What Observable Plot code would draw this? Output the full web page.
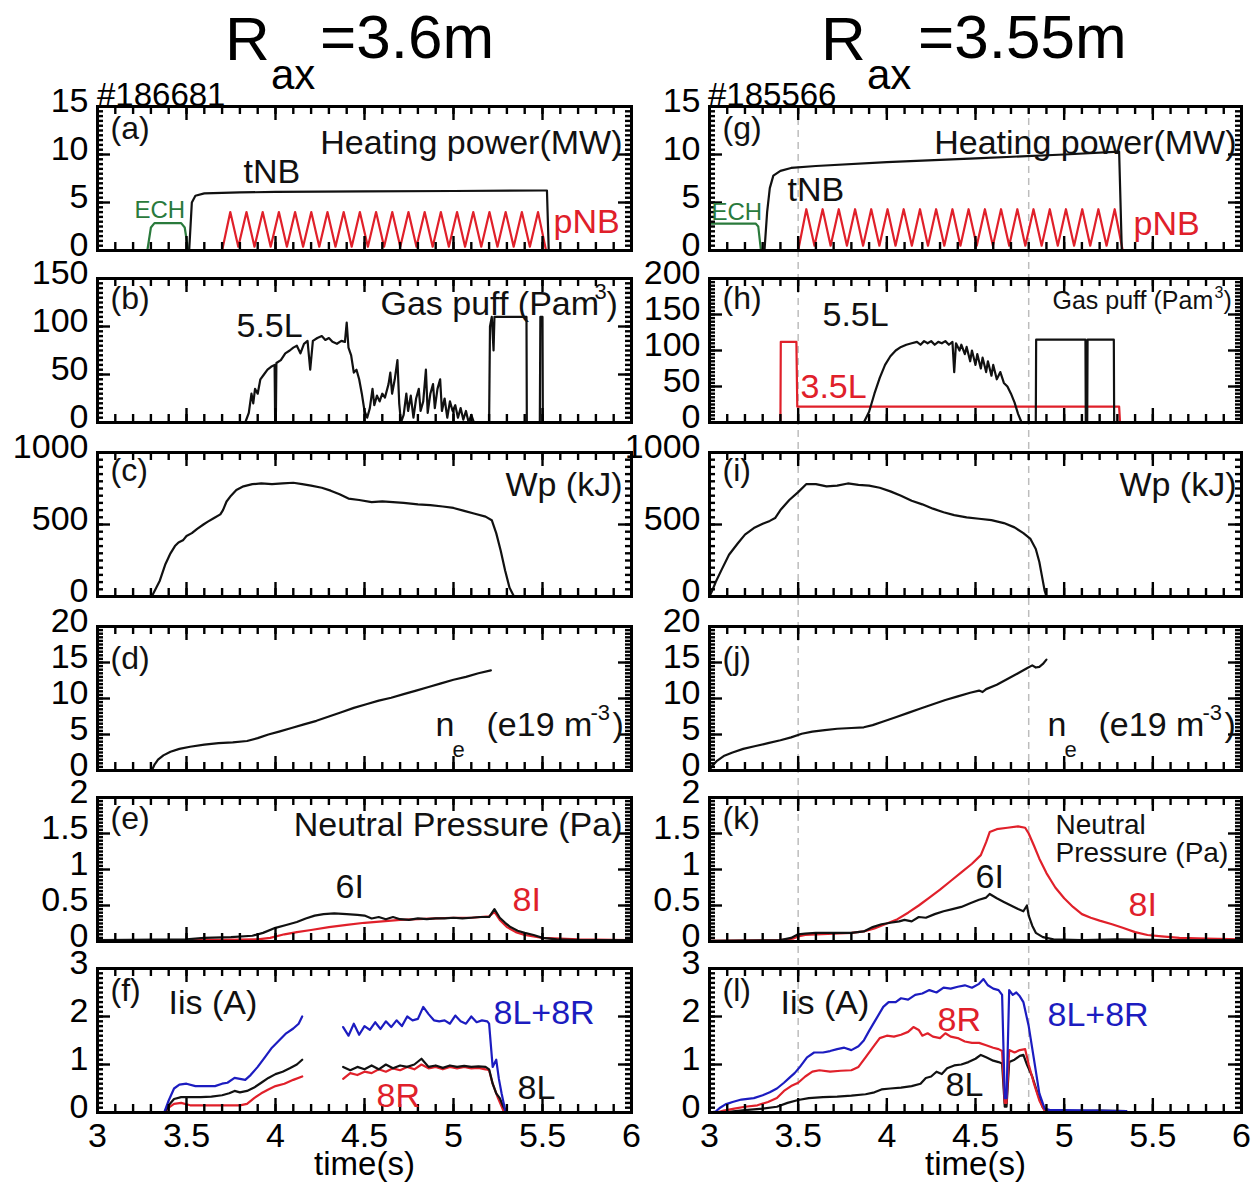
<!DOCTYPE html>
<html>
<head>
<meta charset="utf-8">
<script src="https://cdn.jsdelivr.net/npm/d3@7"></script>
<script src="https://cdn.jsdelivr.net/npm/@observablehq/plot@0.6"></script>
<style>
  body { margin: 0; background: #fff; }
  #fig { position: relative; width: 1253px; height: 1182px; overflow: hidden; background: #fff; }
  #fig svg { position: absolute; overflow: visible; }
</style>
</head>
<body>
<div id="fig"></div>
<script>
// ---------- shared axis values ----------
const xTickLabels = [3, 3.5, 4, 4.5, 5, 5.5, 6];
const dashedTimes = [3.5, 4.8];

// ---------- (a) / (g) heating power (MW) ----------
const echLeft = [[3.28,0],[3.30,2.4],[3.32,2.85],[3.47,2.85],[3.49,2.4],[3.51,0]];
const tnbLeft = [[3.0,0],[3.515,0],[3.53,5.0],[3.55,5.7],[3.6,5.95],[3.8,6.05],[4.0,6.1],[4.5,6.15],[5.0,6.2],[5.5,6.25],[5.525,6.25],[5.535,0],[6.0,0]];
const pnbLeft = [[3.700,0],[3.746,4.0],[3.791,0.4],[3.837,4.0],[3.882,0.4],[3.928,4.0],[3.973,0.4],[4.019,4.0],[4.064,0.4],[4.110,4.0],[4.155,0.4],[4.201,4.0],[4.246,0.4],[4.292,4.0],[4.337,0.4],[4.383,4.0],[4.428,0.4],[4.474,4.0],[4.519,0.4],[4.565,4.0],[4.610,0.4],[4.656,4.0],[4.701,0.4],[4.747,4.0],[4.792,0.4],[4.838,4.0],[4.883,0.4],[4.929,4.0],[4.974,0.4],[5.020,4.0],[5.065,0.4],[5.111,4.0],[5.156,0.4],[5.202,4.0],[5.247,0.4],[5.293,4.0],[5.338,0.4],[5.384,4.0],[5.429,0.4],[5.475,4.0],[5.520,0]];
const echRight = [[3.0,2.8],[3.26,2.8],[3.275,2.5],[3.29,0]];
const tnbRight = [[3.0,0],[3.31,0],[3.325,4.0],[3.34,6.5],[3.36,7.8],[3.40,8.3],[3.46,8.6],[3.6,8.8],[4.0,9.2],[4.5,9.6],[5.0,10.0],[5.31,10.3],[5.325,0],[6.0,0]];
const pnbRight = [[3.500,0],[3.546,4.3],[3.592,0.5],[3.638,4.3],[3.683,0.5],[3.729,4.3],[3.775,0.5],[3.821,4.3],[3.866,0.5],[3.912,4.3],[3.958,0.5],[4.004,4.3],[4.049,0.5],[4.095,4.3],[4.141,0.5],[4.187,4.3],[4.232,0.5],[4.278,4.3],[4.324,0.5],[4.370,4.3],[4.415,0.5],[4.461,4.3],[4.507,0.5],[4.553,4.3],[4.598,0.5],[4.644,4.3],[4.690,0.5],[4.736,4.3],[4.781,0.5],[4.827,4.3],[4.873,0.5],[4.919,4.3],[4.964,0.5],[5.010,4.3],[5.056,0.5],[5.102,4.3],[5.147,0.5],[5.193,4.3],[5.239,0.5],[5.285,4.3],[5.330,0]];

// ---------- (b) / (h) gas puff (Pa m^3) ----------
const gasLeft55 = [[3.0,0],[3.83,0],[3.85,10],[3.865,30],[3.875,20],[3.885,35],[3.90,30],[3.915,45],[3.935,50],[3.955,55],[3.975,58],[3.995,60],[3.998,0],[4.002,0],[4.005,62],[4.03,65],[4.055,72],[4.08,75],[4.10,78],[4.12,80],[4.14,72],[4.16,82],[4.18,85],[4.195,55],[4.21,85],[4.235,88],[4.26,90],[4.28,86],[4.30,88],[4.32,84],[4.345,82],[4.37,85],[4.39,84],[4.40,104],[4.41,78],[4.425,70],[4.44,52],[4.455,55],[4.47,45],[4.485,30],[4.50,12],[4.515,5],[4.53,15],[4.545,35],[4.555,18],[4.57,28],[4.585,22],[4.60,30],[4.615,26],[4.635,40],[4.645,52],[4.655,30],[4.67,45],[4.685,65],[4.695,20],[4.705,0],[4.72,8],[4.735,30],[4.745,12],[4.76,28],[4.775,5],[4.79,25],[4.805,35],[4.815,12],[4.83,22],[4.845,55],[4.855,10],[4.87,30],[4.885,40],[4.895,15],[4.91,35],[4.925,45],[4.935,12],[4.95,25],[4.965,5],[4.98,22],[4.995,12],[5.01,18],[5.025,5],[5.04,15],[5.055,3],[5.07,12],[5.085,0],[5.10,8],[5.115,0],[5.20,0],[5.205,100],[5.215,110],[5.225,75],[5.23,110],[5.41,110],[5.412,0],[5.485,0],[5.488,110],[5.50,110],[5.502,0],[6.0,0]];
const gasRight55 = [[3.0,0],[3.87,0],[3.90,15],[3.93,40],[3.96,62],[3.99,80],[4.02,92],[4.05,100],[4.08,105],[4.11,108],[4.14,110],[4.17,112],[4.19,108],[4.21,113],[4.23,110],[4.25,113],[4.27,108],[4.29,112],[4.31,110],[4.33,113],[4.35,108],[4.37,112],[4.38,70],[4.39,110],[4.41,100],[4.42,108],[4.44,95],[4.45,105],[4.47,85],[4.48,100],[4.50,80],[4.51,95],[4.53,75],[4.54,90],[4.56,70],[4.57,85],[4.59,65],[4.60,80],[4.62,60],[4.64,70],[4.66,55],[4.68,50],[4.70,40],[4.72,28],[4.74,12],[4.76,0],[4.84,0],[4.842,115],[5.12,115],[5.122,0],[5.13,0],[5.132,115],[5.28,115],[5.282,0],[6.0,0]];
const gasRight35 = [[3.40,0],[3.402,112],[3.49,112],[3.495,22],[5.31,22],[5.315,0],[6.0,0]];

// ---------- (c) / (i) stored energy Wp (kJ) ----------
const wpLeft = [[3.0,0],[3.305,0],[3.33,60],[3.35,110],[3.38,220],[3.41,300],[3.435,350],[3.455,375],[3.48,390],[3.50,420],[3.53,440],[3.56,470],[3.595,500],[3.62,520],[3.655,545],[3.69,570],[3.705,600],[3.725,660],[3.75,700],[3.78,740],[3.82,765],[3.87,780],[3.92,785],[3.98,780],[4.04,785],[4.10,790],[4.15,780],[4.20,770],[4.26,755],[4.31,735],[4.36,710],[4.41,680],[4.47,670],[4.54,655],[4.60,660],[4.66,655],[4.72,650],[4.80,640],[4.87,635],[4.94,625],[5.00,615],[5.06,595],[5.12,575],[5.18,555],[5.215,530],[5.24,440],[5.265,320],[5.29,180],[5.315,60],[5.34,0],[6.0,0]];
const wpRight = [[3.0,0],[3.015,40],[3.035,100],[3.07,190],[3.11,290],[3.16,370],[3.20,430],[3.25,475],[3.30,505],[3.34,525],[3.37,545],[3.40,600],[3.45,670],[3.50,725],[3.545,780],[3.60,780],[3.66,765],[3.72,770],[3.78,785],[3.84,775],[3.90,770],[3.96,755],[4.02,730],[4.08,700],[4.14,665],[4.20,640],[4.26,610],[4.32,585],[4.38,565],[4.45,550],[4.52,540],[4.59,530],[4.66,510],[4.72,480],[4.77,440],[4.81,400],[4.84,330],[4.86,240],[4.875,140],[4.89,40],[4.90,0],[6.0,0]];

// ---------- (d) / (j) line-averaged density (1e19 m^-3) ----------
const neLeft = [[3.305,0],[3.32,0.8],[3.34,1.5],[3.37,2.1],[3.41,2.6],[3.46,3.0],[3.52,3.3],[3.60,3.6],[3.68,3.8],[3.76,3.9],[3.84,4.1],[3.90,4.5],[3.96,5.0],[4.02,5.4],[4.09,5.9],[4.16,6.4],[4.23,6.9],[4.30,7.5],[4.37,8.1],[4.44,8.7],[4.51,9.2],[4.58,9.7],[4.65,10.1],[4.72,10.6],[4.79,11.1],[4.86,11.6],[4.93,12.1],[5.00,12.6],[5.07,13.0],[5.14,13.5],[5.21,13.9]];
const neRight = [[3.0,0],[3.01,0.5],[3.04,1.3],[3.08,2.0],[3.13,2.5],[3.19,3.0],[3.26,3.4],[3.33,3.8],[3.40,4.2],[3.46,4.6],[3.52,5.1],[3.58,5.4],[3.65,5.6],[3.72,5.8],[3.80,5.9],[3.87,6.0],[3.92,6.3],[3.98,6.8],[4.05,7.4],[4.12,8.0],[4.19,8.6],[4.26,9.2],[4.33,9.8],[4.40,10.3],[4.47,10.8],[4.52,11.1],[4.54,10.9],[4.56,11.3],[4.62,11.9],[4.68,12.7],[4.74,13.5],[4.79,14.2],[4.82,14.6],[4.84,14.3],[4.86,14.4],[4.88,14.8],[4.90,15.4]];

// ---------- (e) / (k) neutral pressure (Pa) ----------
const p6iLeft = [[3.0,0.02],[3.5,0.03],[3.6,0.05],[3.75,0.06],[3.87,0.08],[3.93,0.12],[4.0,0.19],[4.06,0.23],[4.12,0.27],[4.17,0.32],[4.22,0.36],[4.27,0.38],[4.33,0.39],[4.40,0.38],[4.46,0.37],[4.50,0.36],[4.54,0.32],[4.58,0.34],[4.62,0.31],[4.66,0.34],[4.70,0.31],[4.75,0.30],[4.80,0.32],[4.85,0.31],[4.90,0.32],[4.95,0.32],[5.00,0.33],[5.05,0.32],[5.10,0.33],[5.15,0.34],[5.20,0.34],[5.23,0.45],[5.26,0.33],[5.29,0.26],[5.32,0.2],[5.36,0.15],[5.40,0.12],[5.45,0.09],[5.50,0.05],[5.58,0.03],[5.70,0.02],[6.0,0.02]];
const p8iLeft = [[3.0,0.01],[3.6,0.02],[3.9,0.03],[3.97,0.05],[4.05,0.1],[4.12,0.13],[4.2,0.16],[4.3,0.2],[4.4,0.23],[4.5,0.26],[4.6,0.28],[4.7,0.3],[4.8,0.31],[4.9,0.32],[5.0,0.33],[5.1,0.33],[5.2,0.35],[5.23,0.41],[5.26,0.3],[5.3,0.2],[5.35,0.13],[5.4,0.09],[5.45,0.07],[5.5,0.05],[5.6,0.04],[5.7,0.03],[6.0,0.02]];
const p8iRight = [[3.0,0.01],[3.4,0.02],[3.47,0.04],[3.50,0.07],[3.54,0.09],[3.6,0.1],[3.7,0.11],[3.8,0.12],[3.87,0.14],[3.93,0.18],[4.0,0.25],[4.06,0.31],[4.12,0.4],[4.18,0.5],[4.24,0.61],[4.30,0.72],[4.36,0.84],[4.42,0.96],[4.48,1.08],[4.53,1.2],[4.56,1.38],[4.58,1.52],[4.62,1.56],[4.68,1.58],[4.74,1.6],[4.78,1.58],[4.80,1.5],[4.83,1.33],[4.86,1.15],[4.90,0.95],[4.95,0.75],[5.0,0.6],[5.05,0.48],[5.10,0.38],[5.15,0.33],[5.20,0.29],[5.27,0.24],[5.33,0.19],[5.40,0.13],[5.47,0.09],[5.55,0.07],[5.65,0.05],[5.8,0.04],[6.0,0.03]];
const p6iRight = [[3.0,0.01],[3.4,0.02],[3.46,0.05],[3.50,0.1],[3.54,0.11],[3.6,0.12],[3.7,0.12],[3.8,0.12],[3.87,0.14],[3.92,0.2],[3.97,0.24],[4.02,0.26],[4.07,0.28],[4.10,0.3],[4.14,0.28],[4.18,0.34],[4.22,0.33],[4.27,0.38],[4.32,0.42],[4.37,0.45],[4.42,0.48],[4.47,0.53],[4.52,0.58],[4.56,0.61],[4.58,0.66],[4.62,0.6],[4.66,0.55],[4.70,0.5],[4.74,0.45],[4.77,0.42],[4.79,0.5],[4.80,0.36],[4.82,0.22],[4.84,0.12],[4.88,0.06],[4.94,0.03],[5.1,0.02],[5.3,0.03],[5.6,0.02],[6.0,0.02]];

// ---------- (f) / (l) ion saturation current (A) ----------
const iis8LR_Left = [[3.375,0],[3.40,0.25],[3.43,0.5],[3.46,0.58],[3.50,0.6],[3.55,0.55],[3.60,0.55],[3.66,0.55],[3.70,0.6],[3.73,0.62],[3.77,0.72],[3.80,0.7],[3.83,0.68],[3.86,0.78],[3.90,0.95],[3.94,1.15],[3.98,1.35],[4.02,1.5],[4.06,1.65],[4.10,1.75],[4.13,1.85],[4.15,2.0],[4.16,null],[4.38,1.78],[4.41,1.6],[4.44,1.85],[4.47,1.62],[4.50,1.8],[4.53,1.72],[4.56,1.88],[4.59,1.74],[4.62,1.9],[4.65,1.78],[4.68,1.92],[4.71,1.8],[4.74,2.0],[4.77,1.92],[4.80,1.95],[4.83,2.2],[4.86,2.05],[4.89,1.92],[4.92,1.9],[4.95,1.92],[4.98,1.85],[5.01,2.02],[5.04,1.9],[5.07,1.85],[5.10,2.0],[5.13,1.88],[5.16,1.92],[5.19,1.9],[5.20,1.85],[5.22,0.95],[5.24,1.1],[5.255,0.7],[5.27,0.4],[5.29,0.05],[5.30,0]];
const iis8L_Left = [[3.375,0],[3.40,0.15],[3.43,0.28],[3.47,0.32],[3.52,0.32],[3.58,0.32],[3.64,0.33],[3.70,0.36],[3.74,0.4],[3.77,0.45],[3.80,0.42],[3.84,0.45],[3.88,0.52],[3.92,0.62],[3.96,0.72],[4.00,0.8],[4.04,0.85],[4.08,0.92],[4.12,1.0],[4.15,1.1],[4.16,null],[4.38,0.95],[4.42,0.88],[4.46,0.95],[4.50,0.9],[4.54,0.98],[4.58,0.9],[4.62,1.0],[4.66,0.92],[4.70,0.98],[4.74,0.95],[4.78,1.0],[4.82,1.12],[4.86,0.95],[4.90,0.98],[4.94,0.93],[4.98,0.98],[5.02,0.95],[5.06,0.97],[5.10,0.95],[5.14,0.96],[5.18,0.95],[5.20,0.9],[5.22,0.6],[5.24,0.4],[5.26,0.3],[5.28,0.12],[5.30,0]];
const iis8R_Left = [[3.375,0],[3.40,0.1],[3.43,0.18],[3.47,0.2],[3.52,0.15],[3.60,0.15],[3.70,0.15],[3.80,0.15],[3.84,0.18],[3.88,0.3],[3.92,0.4],[3.96,0.48],[4.00,0.55],[4.05,0.6],[4.10,0.68],[4.15,0.75],[4.16,null],[4.38,0.7],[4.42,0.82],[4.46,0.78],[4.50,0.85],[4.54,0.82],[4.58,0.9],[4.62,0.85],[4.66,0.92],[4.70,0.88],[4.74,0.95],[4.78,0.9],[4.82,1.0],[4.86,0.92],[4.90,0.95],[4.94,0.9],[4.98,0.95],[5.02,0.92],[5.06,0.95],[5.10,0.92],[5.14,0.93],[5.18,0.9],[5.20,0.88],[5.22,0.6],[5.25,0.3],[5.285,0]];
const iis8LR_Right = [[3.0,0],[3.035,0.02],[3.06,0.1],[3.09,0.17],[3.13,0.22],[3.18,0.27],[3.25,0.3],[3.30,0.36],[3.34,0.42],[3.38,0.5],[3.42,0.62],[3.45,0.72],[3.48,0.82],[3.51,0.95],[3.55,1.15],[3.59,1.25],[3.64,1.25],[3.68,1.28],[3.72,1.32],[3.76,1.35],[3.80,1.3],[3.84,1.38],[3.87,1.5],[3.90,1.7],[3.94,1.95],[3.98,2.2],[4.01,2.3],[4.05,2.3],[4.08,2.38],[4.12,2.35],[4.16,2.45],[4.20,2.48],[4.24,2.55],[4.28,2.5],[4.32,2.6],[4.36,2.58],[4.40,2.62],[4.44,2.65],[4.48,2.6],[4.52,2.68],[4.545,2.78],[4.57,2.65],[4.60,2.58],[4.63,2.55],[4.65,2.45],[4.665,0.3],[4.675,0.3],[4.69,2.55],[4.71,2.45],[4.73,2.5],[4.75,2.42],[4.77,2.3],[4.80,1.8],[4.83,1.1],[4.86,0.4],[4.89,0.08],[4.92,0.05],[5.0,0.05],[5.2,0.04],[5.35,0.03]];
const iis8R_Right = [[3.0,0],[3.04,0],[3.08,0.04],[3.14,0.08],[3.20,0.12],[3.27,0.15],[3.33,0.22],[3.38,0.3],[3.42,0.45],[3.46,0.55],[3.50,0.62],[3.54,0.75],[3.58,0.85],[3.62,0.88],[3.68,0.85],[3.74,0.87],[3.80,0.88],[3.84,0.95],[3.88,1.15],[3.92,1.35],[3.96,1.55],[4.00,1.6],[4.04,1.58],[4.08,1.62],[4.12,1.68],[4.15,1.78],[4.18,1.72],[4.20,1.6],[4.23,1.65],[4.26,1.58],[4.30,1.55],[4.33,1.65],[4.36,1.58],[4.40,1.55],[4.44,1.48],[4.48,1.45],[4.52,1.45],[4.56,1.4],[4.60,1.35],[4.63,1.32],[4.65,1.28],[4.665,0.2],[4.675,0.2],[4.69,1.3],[4.72,1.25],[4.75,1.3],[4.78,1.32],[4.80,1.0],[4.83,0.6],[4.86,0.25],[4.89,0.03]];
const iis8L_Right = [[3.0,0],[3.06,0],[3.12,0.02],[3.20,0.05],[3.30,0.08],[3.38,0.12],[3.44,0.2],[3.50,0.26],[3.56,0.3],[3.64,0.32],[3.72,0.33],[3.80,0.35],[3.88,0.38],[3.93,0.42],[3.97,0.48],[4.02,0.5],[4.08,0.52],[4.14,0.55],[4.19,0.6],[4.22,0.72],[4.25,0.75],[4.28,0.85],[4.31,0.8],[4.34,0.92],[4.38,0.98],[4.42,1.0],[4.46,1.05],[4.50,1.12],[4.53,1.2],[4.56,1.15],[4.60,1.08],[4.63,1.05],[4.65,1.02],[4.665,0.12],[4.675,0.12],[4.69,1.05],[4.72,1.1],[4.75,1.18],[4.77,1.2],[4.79,1.0],[4.82,0.75],[4.85,0.4],[4.88,0.1],[4.90,0.03],[5.0,0.03],[5.2,0.04],[5.35,0.03]];

// ---------- layout ----------
const FONT = "'Liberation Sans', Arial, Helvetica, sans-serif";
const BLACK = "#111", RED = "#e0202a", GREEN = "#2a7a3c", BLUE = "#1c1cc0";
const colX = {left: 97, right: 709};   // left edge of each frame
const colW = {left: 534, right: 532};  // frame widths
const rowY = [106, 278, 452, 626, 797, 968];
const FH = 144;                        // frame height
const ML = 97, MR = 20, MT = 20;
const fig = document.getElementById("fig");

// dashed guide lines running through the right-hand column
{
  const top = rowY[0], h = rowY[5] + FH - top;
  const svg = Plot.plot({
    width: ML + colW.right + MR, height: h,
    marginLeft: ML, marginRight: MR, marginTop: 0, marginBottom: 0,
    x: {domain: [3, 6], axis: null},
    style: {background: "none", overflow: "visible"},
    marks: [Plot.ruleX(dashedTimes, {x: d => d, stroke: "#bdbdbd", strokeWidth: 1.5, strokeDasharray: "7,5"})]
  });
  svg.style.left = (colX.right - ML) + "px";
  svg.style.top = top + "px";
  fig.append(svg);
}

function panel(o) {
  const fx = colX[o.col], fw = colW[o.col], fy = rowY[o.row];
  const bottomRow = o.row === 5;
  const MB = bottomRow ? 80 : 20;
  const marks = [];
  for (const s of o.series) {
    marks.push(Plot.line(s.data, {x: d => d[0], y: d => d[1], stroke: s.color, strokeWidth: 2.2, strokeLinejoin: "round"}));
  }
  const yMinor = d3.range(o.y[0], o.y[1] + o.minor / 2, o.minor);
  const xMinor = d3.range(3, 6.05, 0.1);
  const tk = {stroke: "#000", strokeWidth: 2.4};
  // inward-pointing ticks on all four sides, IDL style
  marks.push(
    Plot.tickX(xMinor, {x: d => d, insetBottom: FH - 8, ...tk}),
    Plot.tickX(xTickLabels, {x: d => d, insetBottom: FH - 14, ...tk}),
    Plot.tickX(xMinor, {x: d => d, insetTop: FH - 8, ...tk}),
    Plot.tickX(xTickLabels, {x: d => d, insetTop: FH - 14, ...tk}),
    Plot.tickY(yMinor, {y: d => d, insetRight: fw - 6, ...tk}),
    Plot.tickY(o.ticks, {y: d => d, insetRight: fw - 13, ...tk}),
    Plot.tickY(yMinor, {y: d => d, insetLeft: fw - 6, ...tk}),
    Plot.tickY(o.ticks, {y: d => d, insetLeft: fw - 13, ...tk}),
    Plot.frame({stroke: "#000", strokeWidth: 3}),
    Plot.axisY({ticks: o.ticks, anchor: "left", tickSize: 0, tickPadding: 9, fontSize: 34, dy: -5, tickFormat: d => String(d)})
  );
  if (bottomRow) {
    marks.push(
      Plot.axisX({ticks: xTickLabels, anchor: "bottom", tickSize: 0, tickPadding: 10, fontSize: 34, tickFormat: d => String(d)}),
      Plot.text(["time(s)"], {text: d => d, frameAnchor: "bottom", dy: 52, fontSize: 33, lineAnchor: "middle"})
    );
  }
  // annotations: [text, pageX, pageY, fontSize, colour, anchor]
  for (const [t, px, py, size, color, anchor] of o.texts) {
    marks.push(Plot.text([t], {
      text: d => d, frameAnchor: "top-left", dx: px - fx, dy: py - fy,
      textAnchor: anchor || "start", lineAnchor: "middle",
      fontSize: size || 34, fill: color || BLACK
    }));
  }
  const svg = Plot.plot({
    width: ML + fw + MR, height: MT + FH + MB,
    marginLeft: ML, marginRight: MR, marginTop: MT, marginBottom: MB,
    x: {domain: [3, 6], axis: null},
    y: {domain: o.y, axis: null},
    style: {background: "none", overflow: "visible", fontFamily: FONT, color: "#000"},
    marks
  });
  svg.style.left = (fx - ML) + "px";
  svg.style.top = (fy - MT) + "px";
  fig.append(svg);
}

// ---------- left column: Rax = 3.6 m ----------
panel({col: "left", row: 0, y: [0, 15], ticks: [0, 5, 10, 15], minor: 0.5,
  series: [{data: echLeft, color: GREEN}, {data: pnbLeft, color: RED}, {data: tnbLeft, color: BLACK}],
  texts: [["(a)", 110, 128, 32], ["Heating power(MW)", 622, 143, 34, BLACK, "end"], ["tNB", 243, 172],
          ["ECH", 134, 210, 24, GREEN], ["pNB", 553, 222, 34, RED]]});
panel({col: "left", row: 1, y: [0, 150], ticks: [0, 50, 100, 150], minor: 5,
  series: [{data: gasLeft55, color: BLACK}],
  texts: [["(b)", 110, 298, 32], ["5.5L", 236, 326], ["Gas puff (Pam", 380, 304], ["3", 594, 291, 22], [")", 606, 304]]});
panel({col: "left", row: 2, y: [0, 1000], ticks: [0, 500, 1000], minor: 50,
  series: [{data: wpLeft, color: BLACK}],
  texts: [["(c)", 110, 470, 32], ["Wp (kJ)", 622, 485, 34, BLACK, "end"]]});
panel({col: "left", row: 3, y: [0, 20], ticks: [0, 5, 10, 15, 20], minor: 0.5,
  series: [{data: neLeft, color: BLACK}],
  texts: [["(d)", 110, 658, 32], ["n", 435, 725], ["e", 452, 749, 22], ["(e19 m", 486, 725], ["-3", 590, 712, 22], [")", 612, 725]]});
panel({col: "left", row: 4, y: [0, 2], ticks: [0, 0.5, 1, 1.5, 2], minor: 0.05,
  series: [{data: p8iLeft, color: RED}, {data: p6iLeft, color: BLACK}],
  texts: [["(e)", 110, 818, 32], ["Neutral Pressure (Pa)", 622, 825, 34, BLACK, "end"], ["6I", 335, 887], ["8I", 512, 900, 34, RED]]});
panel({col: "left", row: 5, y: [0, 3], ticks: [0, 1, 2, 3], minor: 0.1,
  series: [{data: iis8R_Left, color: RED}, {data: iis8L_Left, color: BLACK}, {data: iis8LR_Left, color: BLUE}],
  texts: [["(f)", 110, 990, 32], ["Iis (A)", 168, 1003], ["8L+8R", 493, 1013, 34, BLUE], ["8R", 376, 1096, 34, RED], ["8L", 517, 1088]]});

// ---------- right column: Rax = 3.55 m ----------
panel({col: "right", row: 0, y: [0, 15], ticks: [0, 5, 10, 15], minor: 0.5,
  series: [{data: echRight, color: GREEN}, {data: pnbRight, color: RED}, {data: tnbRight, color: BLACK}],
  texts: [["(g)", 722, 128, 32], ["Heating power(MW)", 1236, 143, 34, BLACK, "end"], ["tNB", 787, 190],
          ["ECH", 711, 212, 24, GREEN], ["pNB", 1133, 224, 34, RED]]});
panel({col: "right", row: 1, y: [0, 200], ticks: [0, 50, 100, 150, 200], minor: 5,
  series: [{data: gasRight35, color: RED}, {data: gasRight55, color: BLACK}],
  texts: [["(h)", 722, 298, 32], ["5.5L", 822, 315], ["3.5L", 800, 387, 34, RED],
          ["Gas puff (Pam", 1052, 300, 25], ["3", 1214, 292, 16], [")", 1223, 300, 25]]});
panel({col: "right", row: 2, y: [0, 1000], ticks: [0, 500, 1000], minor: 50,
  series: [{data: wpRight, color: BLACK}],
  texts: [["(i)", 722, 470, 32], ["Wp (kJ)", 1236, 485, 34, BLACK, "end"]]});
panel({col: "right", row: 3, y: [0, 20], ticks: [0, 5, 10, 15, 20], minor: 0.5,
  series: [{data: neRight, color: BLACK}],
  texts: [["(j)", 722, 658, 32], ["n", 1047, 725], ["e", 1064, 749, 22], ["(e19 m", 1098, 725], ["-3", 1202, 712, 22], [")", 1224, 725]]});
panel({col: "right", row: 4, y: [0, 2], ticks: [0, 0.5, 1, 1.5, 2], minor: 0.05,
  series: [{data: p8iRight, color: RED}, {data: p6iRight, color: BLACK}],
  texts: [["(k)", 722, 818, 32], ["Neutral", 1055, 825, 28], ["Pressure (Pa)", 1055, 853, 28],
          ["6I", 975, 877], ["8I", 1128, 905, 34, RED]]});
panel({col: "right", row: 5, y: [0, 3], ticks: [0, 1, 2, 3], minor: 0.1,
  series: [{data: iis8L_Right, color: BLACK}, {data: iis8R_Right, color: RED}, {data: iis8LR_Right, color: BLUE}],
  texts: [["(l)", 722, 990, 32], ["Iis (A)", 780, 1003], ["8R", 937, 1020, 34, RED], ["8L+8R", 1047, 1015, 34, BLUE], ["8L", 945, 1085]]});

// ---------- column headings and shot numbers ----------
{
  const svg = d3.create("svg").attr("width", 1253).attr("height", 115)
    .style("left", "0px").style("top", "0px").style("font-family", FONT);
  const heads = [
    ["R", 225, 60, 62], ["ax", 271, 89, 42], ["=3.6m", 320, 58, 62],
    ["R", 821, 60, 62], ["ax", 867, 89, 42], ["=3.55m", 918, 58, 62],
    ["#186681", 97, 106, 33], ["#185566", 708, 106, 33]
  ];
  svg.selectAll("text").data(heads).join("text")
    .attr("x", d => d[1]).attr("y", d => d[2]).attr("font-size", d => d[3])
    .attr("fill", "#000").text(d => d[0]);
  fig.append(svg.node());
}
</script>
</body>
</html>
